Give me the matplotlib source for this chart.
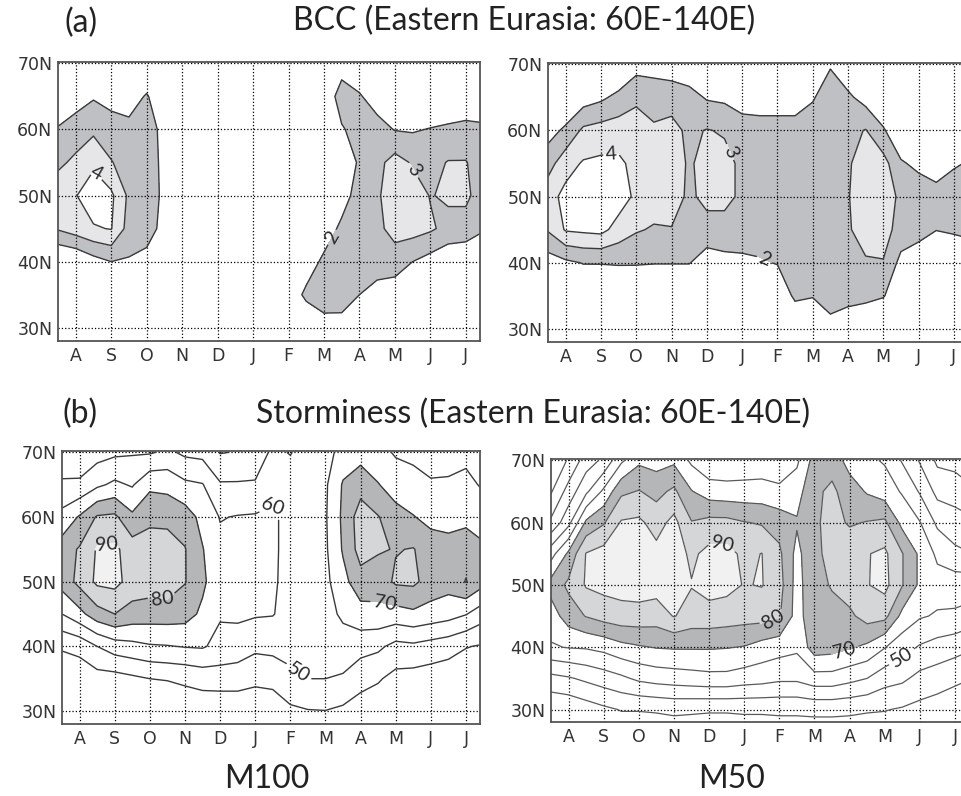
import numpy as np
import matplotlib.pyplot as plt

months = ['A', 'S', 'O', 'N', 'D', 'J', 'F', 'M', 'A', 'M', 'J', 'J']
lat_ticks = [30, 40, 50, 60, 70]
lat_labels = ['30N', '40N', '50N', '60N', '70N']

# grid: x in months (0 = mid-Aug), half-month steps; rows = latitude
x_pts = np.arange(-0.5, 11.51, 0.5)
lat_pts = [25, 30, 35, 40, 45, 50, 55, 60, 65, 70]

# each inner list is one x column, values from 25N up to 70N
bcc_m100 = [
    [0.0, 0.0, 0.3, 0.8, 3.1, 3.6, 2.8, 2.1, 1.0, 0.5],
    [0.0, 0.2, 0.5, 1.0, 3.5, 3.95, 3.2, 2.5, 1.5, 0.5],
    [0.0, 0.2, 0.5, 1.6, 3.9, 4.6, 3.8, 2.8, 1.9, 0.8],
    [0.0, 0.3, 0.8, 2.0, 4.05, 4.2, 3.05, 2.5, 1.6, 0.8],
    [0.0, 0.3, 0.8, 1.9, 2.6, 2.8, 2.6, 2.3, 1.5, 0.6],
    [0.0, 0.2, 0.6, 1.7, 2.4, 2.5, 2.4, 2.3, 2.1, 1.0],
    [0.0, 0.1, 0.3, 0.9, 1.7, 1.8, 1.8, 1.8, 1.2, 0.5],
    [0.0, 0.2, 0.5, 0.8, 1.0, 1.1, 1.1, 1.0, 0.8, 0.4],
    [0.0, 0.2, 0.6, 0.8, 1.0, 1.0, 1.0, 0.9, 0.7, 0.4],
    [0.0, 0.3, 0.7, 0.9, 1.0, 1.0, 0.9, 0.8, 0.6, 0.3],
    [0.0, 0.4, 0.8, 1.0, 1.0, 0.9, 0.9, 0.8, 0.6, 0.3],
    [0.1, 0.5, 0.9, 1.0, 0.9, 0.9, 0.8, 0.8, 0.7, 0.4],
    [0.2, 0.6, 1.0, 0.9, 0.8, 0.8, 0.8, 0.8, 0.7, 0.4],
    [0.3, 0.8, 1.4, 1.0, 0.8, 0.7, 0.7, 0.8, 0.8, 0.4],
    [0.4, 1.2, 2.2, 1.5, 1.0, 0.8, 0.8, 0.8, 0.8, 0.5],
    [0.5, 1.6, 2.5, 2.2, 1.5, 1.0, 1.0, 1.2, 1.2, 0.8],
    [0.5, 1.5, 2.6, 2.5, 2.2, 1.6, 1.5, 1.9, 2.5, 1.5],
    [0.4, 1.2, 2.0, 2.6, 2.7, 2.4, 2.1, 2.4, 2.1, 1.2],
    [0.3, 0.8, 1.6, 2.5, 2.8, 2.9, 2.7, 2.4, 1.5, 0.8],
    [0.2, 0.5, 1.3, 2.6, 3.3, 3.4, 3.4, 1.95, 1.0, 0.5],
    [0.1, 0.4, 1.0, 2.0, 3.4, 3.5, 2.9, 1.9, 0.9, 0.4],
    [0.1, 0.3, 0.8, 1.6, 3.15, 2.95, 2.7, 2.05, 1.0, 0.4],
    [0.1, 0.2, 0.6, 1.2, 2.7, 3.15, 3.05, 2.2, 1.0, 0.3],
    [0.1, 0.2, 0.5, 1.1, 2.6, 3.2, 3.05, 2.3, 1.2, 0.3],
    [0.1, 0.2, 0.5, 1.0, 2.1, 2.5, 2.5, 2.2, 1.2, 0.3],
]

bcc_m50 = [
    [0.0, 0.3, 0.8, 1.5, 3.1, 3.6, 2.6, 1.6, 0.8, 0.3],
    [0.0, 0.3, 0.9, 1.8, 4.1, 4.3, 3.6, 2.2, 1.0, 0.3],
    [0.0, 0.3, 0.9, 2.05, 4.2, 4.6, 4.1, 3.2, 1.5, 0.5],
    [0.0, 0.3, 1.0, 2.05, 4.3, 4.8, 4.2, 3.4, 1.8, 0.6],
    [0.0, 0.3, 0.9, 2.1, 3.6, 4.5, 4.2, 3.5, 2.3, 0.8],
    [0.0, 0.3, 0.8, 2.1, 3.1, 3.8, 3.7, 3.5, 2.8, 1.6],
    [0.0, 0.3, 0.8, 2.05, 2.9, 3.5, 3.6, 3.1, 2.7, 1.5],
    [0.0, 0.3, 0.8, 2.05, 2.95, 3.5, 3.6, 3.3, 2.6, 1.4],
    [0.0, 0.3, 0.8, 2.05, 2.6, 2.8, 2.85, 2.8, 2.4, 1.2],
    [0.0, 0.3, 0.6, 1.5, 2.6, 3.3, 3.4, 3.05, 1.9, 0.8],
    [0.0, 0.3, 0.6, 1.7, 2.6, 3.3, 3.3, 2.9, 1.8, 0.8],
    [0.0, 0.3, 0.7, 1.8, 2.5, 2.8, 2.8, 2.5, 1.5, 0.6],
    [0.0, 0.3, 0.8, 1.9, 2.5, 2.8, 2.8, 2.4, 1.5, 0.6],
    [0.2, 0.5, 1.2, 2.05, 2.6, 2.7, 2.7, 2.4, 1.5, 0.6],
    [0.5, 1.0, 2.2, 2.5, 2.6, 2.7, 2.7, 2.4, 1.5, 0.7],
    [0.6, 1.2, 2.05, 2.6, 2.7, 2.8, 2.8, 2.6, 1.9, 1.0],
    [0.7, 1.6, 2.5, 2.8, 2.9, 2.9, 2.9, 2.8, 2.6, 1.9],
    [0.6, 1.4, 2.3, 2.7, 2.9, 2.95, 2.9, 2.7, 2.2, 1.2],
    [0.5, 1.3, 2.2, 2.9, 3.4, 3.5, 3.4, 3.05, 1.6, 0.8],
    [0.5, 1.2, 2.05, 2.95, 3.4, 3.5, 3.4, 2.1, 1.2, 0.6],
    [0.3, 0.8, 1.5, 1.7, 2.6, 2.8, 2.1, 1.3, 0.8, 0.4],
    [0.2, 0.5, 1.0, 1.5, 2.3, 2.5, 1.8, 1.0, 0.6, 0.3],
    [0.2, 0.4, 0.8, 1.3, 2.02, 2.3, 1.6, 0.9, 0.5, 0.3],
    [0.2, 0.4, 0.8, 1.4, 2.1, 2.5, 1.9, 1.0, 0.5, 0.3],
    [0.2, 0.4, 0.8, 1.5, 2.2, 2.6, 2.1, 1.1, 0.5, 0.3],
]

storm_m100 = [
    [22, 28, 34, 41, 60, 74, 75, 63, 52, 41],
    [24, 27, 34, 43, 67, 83, 81, 71, 52, 42],
    [24, 27, 36, 50, 76, 92, 91, 81, 58, 46],
    [24, 26, 36, 55, 80, 93, 92, 82, 62, 48],
    [23, 26, 38, 57, 76, 86, 85, 72, 59, 49],
    [23, 26, 40, 59, 75, 85, 86, 77, 68, 49],
    [22, 25, 41, 59.5, 75, 86, 85, 77, 67, 52],
    [27, 33, 42, 60.5, 74, 80.5, 80.5, 75, 62, 48],
    [27, 33, 44, 61, 68, 72, 70.5, 67, 60.5, 47],
    [27, 32, 45, 57, 61, 63, 62.5, 59.5, 51, 39.5],
    [27, 32, 45, 55, 62, 65, 64.5, 60.5, 51, 40.5],
    [27, 31, 43, 52, 61, 63, 63, 61, 51, 44],
    [27, 32, 44, 52.5, 60.5, 61, 61, 61, 58, 52],
    [33, 38, 48, 53, 56, 57.5, 58, 58, 55, 49.5],
    [35, 39.5, 50, 53, 55.5, 57, 58, 58.5, 57, 54],
    [36, 39.8, 50, 53.5, 56, 57.5, 58.5, 59, 58.5, 56],
    [33, 38, 49, 55, 62, 67, 71, 72, 71, 64],
    [30, 36, 43, 54, 66, 76, 84, 85, 76, 66],
    [29, 34, 41, 52, 67, 75, 81, 80.5, 70.5, 63],
    [26, 31, 37, 47, 66, 81.5, 79.5, 74, 65, 59],
    [25, 30, 36, 48, 68, 82, 80.5, 70.5, 63, 58],
    [24, 29, 35, 46, 66, 76, 75, 67, 61, 56],
    [24, 28, 34, 44, 64, 74, 74, 66, 61, 57],
    [23, 27, 33, 40.5, 60.5, 80.5, 76, 67, 62, 58],
    [23, 27, 32, 39, 54, 73, 72, 64, 59, 55],
]

storm_m50 = [
    [22, 21, 37, 59, 65, 74, 56, 32, 19, 12],
    [22, 22, 39, 60.5, 75, 82, 72, 47, 34, 21],
    [22, 25, 42, 61, 80.5, 91, 90.5, 72, 48, 35],
    [22, 28, 45, 63, 84, 93, 94, 79, 62, 42],
    [22, 30.5, 48, 67, 86, 94, 95, 91, 78, 58],
    [22, 30.5, 52, 69, 86, 95, 96, 92, 80.5, 68],
    [22, 31, 54, 70.5, 85, 94, 93, 86, 77, 66],
    [22, 32, 55, 71, 90.5, 94, 95, 93, 82, 68],
    [22, 31.5, 56, 71, 86, 90.5, 88, 80.5, 70.5, 58],
    [22, 31, 57, 71, 86, 94, 93, 83, 65, 52],
    [22, 31, 57, 70.5, 85, 93, 93, 83, 64, 52],
    [22, 31.5, 55, 69.5, 84, 89.5, 88, 80.5, 64, 53],
    [22, 31.5, 54, 66, 84, 90.5, 90.2, 79, 64, 54],
    [22, 32, 52, 64, 81, 84, 82, 76, 62, 54],
    [22, 32, 52, 62, 66, 66, 67, 71, 66, 58],
    [22, 32.5, 56, 75, 77, 78, 78.5, 78.5, 78, 74],
    [22, 32.5, 56, 74, 78, 80.5, 82, 83, 82, 76],
    [22, 32, 53, 71, 78, 85, 86, 79, 75, 66],
    [22, 31, 50, 68, 84, 89.5, 89.5, 80.5, 69, 62],
    [22, 30.5, 44, 60.5, 83, 93, 92, 82, 65, 59],
    [22, 29, 42, 54, 67, 80.5, 80.5, 67, 59, 49],
    [22, 27, 37, 49, 61, 68, 68, 60.5, 49, 39],
    [22, 25, 35, 46, 59, 64, 58, 48, 37, 28],
    [22, 24, 32, 44, 58, 66, 52, 45, 35, 27],
    [22, 23, 30, 41, 55, 66, 50, 42, 32, 21],
]

bcc_colors = ['#bfc0c3', '#e6e6e8', 'white']
storm_colors = ['#b5b6b8', '#d5d6d8', '#f1f1f1']

plt.rcParams['font.family'] = ['DejaVu Sans']
title_font = ['Lato', 'DejaVu Sans']

fig = plt.figure(figsize=(9.61, 7.96), dpi=100)


def draw_panel(rect, cols, fill_levels, colors, line_levels, labels, lc='#3a3a3a', lw=1.0):
    ax = fig.add_axes(rect)
    z = np.array(cols).T
    ax.contourf(x_pts, lat_pts, z, levels=fill_levels, colors=colors)
    labelled = {}
    for lev, pos in labels:
        labelled.setdefault(lev, []).append(pos)
    plain = [lev for lev in line_levels if lev not in labelled]
    if plain:
        ax.contour(x_pts, lat_pts, z, levels=plain, colors=lc, linewidths=lw)
    # one contour set per labelled level, so each label sits on its own line
    for lev, spots in labelled.items():
        cs = ax.contour(x_pts, lat_pts, z, levels=[lev], colors=lc, linewidths=lw)
        txts = ax.clabel(cs, manual=spots, fmt='%g', fontsize=14, inline=True, inline_spacing=2)
        for t in txts:
            t.set_family(title_font)
            t.set_color('#2a2a2a')
    ax.set_xlim(-0.5, 11.4)
    ax.set_ylim(28, 70.2)
    ax.set_xticks(range(12))
    ax.set_xticklabels(months)
    ax.set_yticks(lat_ticks)
    ax.set_yticklabels(lat_labels)
    ax.grid(True, linestyle=':', color='k', linewidth=0.9)
    ax.tick_params(length=0, labelsize=12.5, labelcolor='#333333', pad=4)
    for s in ax.spines.values():
        s.set_color('#555555')
        s.set_linewidth(1.3)
    return ax


W, H = 961.0, 796.0


def rect(left, top, right, bottom):
    return [left / W, 1 - bottom / H, (right - left) / W, (bottom - top) / H]


draw_panel(rect(58, 62, 480, 341), bcc_m100, [2, 3, 4, 100], bcc_colors, [2, 3, 4],
           [(4, (0.6, 53.5)), (3, (9.15, 52.5)), (2, (7.26, 43.6))])
draw_panel(rect(548, 63, 968, 342), bcc_m50, [2, 3, 4, 100], bcc_colors, [2, 3, 4],
           [(4, (1.3, 56.1)), (3, (4.8, 57.1)), (2, (5.74, 41.8))])
draw_panel(rect(62, 451, 480, 724), storm_m100, [70, 80, 90, 200], storm_colors,
           [40, 50, 60, 70, 80, 90],
           [(90, (0.74, 56.9)), (80, (2.36, 48)), (60, (5.48, 63.7)), (50, (6.42, 37.5)), (70, (8.69, 46.8))])
draw_panel(rect(551, 459, 969, 722), storm_m50, [70, 80, 90, 200], storm_colors,
           [20, 30, 40, 50, 60, 70, 80, 90],
           [(90, (4.39, 57.6)), (80, (5.84, 44.4)), (70, (7.83, 40.1)), (50, (9.52, 38))],
           lc='#5a5a5a', lw=0.9)

fig.text(65 / W, 1 - 23 / H, '(a)', ha='left', va='center', fontsize=23, family=title_font, color='#222222')
fig.text(524 / W, 1 - 21 / H, 'BCC (Eastern Eurasia: 60E-140E)', ha='center', va='center',
         fontsize=23, family=title_font, color='#222222')
fig.text(62 / W, 1 - 414 / H, '(b)', ha='left', va='center', fontsize=23, family=title_font, color='#222222')
fig.text(533 / W, 1 - 414 / H, 'Storminess (Eastern Eurasia: 60E-140E)', ha='center', va='center',
         fontsize=23, family=title_font, color='#222222')
fig.text(267 / W, 1 - 779 / H, 'M100', ha='center', va='center', fontsize=23, family=title_font, color='#222222')
fig.text(732 / W, 1 - 779 / H, 'M50', ha='center', va='center', fontsize=23, family=title_font, color='#222222')

fig.savefig('out.png', dpi=100)
